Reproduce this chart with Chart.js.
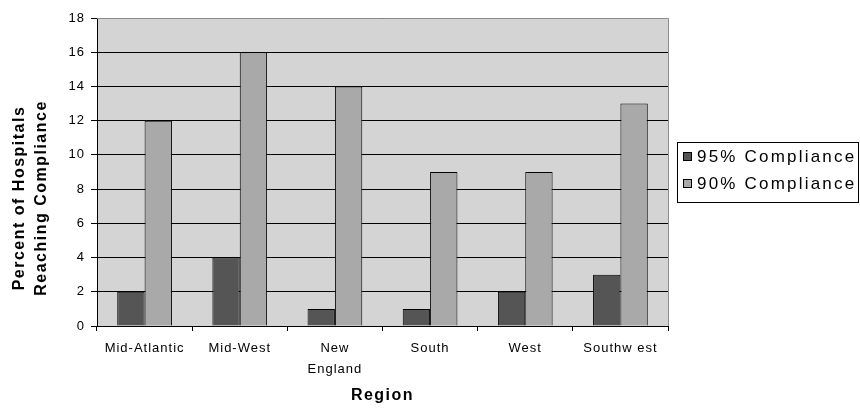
<!DOCTYPE html>
<html lang="en">

<head>
  <meta charset="UTF-8">
  <title>Compliance by Region</title>
  <script src="https://cdn.jsdelivr.net/npm/chart.js"></script>
  <style>
    body { margin: 0; background: #fff; }
    #grafico { display: block; }
  </style>
</head>

<body>
  <canvas id="grafico" width="860" height="412"></canvas>

  <script>

// regions and percent of hospitals reaching each compliance level
const regioes = ['Mid-Atlantic', 'Mid-West', ['New', 'England'], 'South', 'West', 'Southw est']
const compliance95 = [2, 4, 1, 1, 2, 3]
const compliance90 = [12, 16, 14, 9, 9, 13]
const yTicks = [0, 2, 4, 6, 8, 10, 12, 14, 16, 18]

const fonte = "'Liberation Sans', Arial, sans-serif"

// canvas letter spacing gets reset whenever the canvas is resized
function espacamento(chart) {
  chart.ctx.letterSpacing = '1px'
}

// grey plot background, border, titles and the boxed legend
const extras = {
  id: 'extras',
  beforeLayout(chart) { espacamento(chart) },
  beforeDraw(chart) {
    espacamento(chart)
    var a = chart.chartArea
    var ctx = chart.ctx
    ctx.save()
    ctx.fillStyle = '#d4d4d4'
    ctx.fillRect(a.left, a.top, a.right - a.left, a.bottom - a.top)
    ctx.restore()
  },
  afterDraw(chart) {
    var a = chart.chartArea
    var ctx = chart.ctx
    ctx.save()

    // top and right edge of the plot frame
    ctx.strokeStyle = '#8c8c8c'
    ctx.lineWidth = 1
    ctx.beginPath()
    ctx.moveTo(a.left, a.top + 0.5)
    ctx.lineTo(a.right + 0.5, a.top + 0.5)
    ctx.lineTo(a.right + 0.5, a.bottom)
    ctx.stroke()

    // axis titles
    ctx.fillStyle = '#000'
    ctx.font = 'bold 16px ' + fonte
    ctx.letterSpacing = '1.5px'
    ctx.textAlign = 'center'
    ctx.textBaseline = 'alphabetic'
    ctx.fillText('Region', (a.left + a.right) / 2, 400)

    ctx.save()
    ctx.translate(0, 198)
    ctx.rotate(-Math.PI / 2)
    ctx.fillText('Percent of Hospitals', 0, 24)
    ctx.fillText('Reaching Compliance', 0, 46)
    ctx.restore()

    // legend
    ctx.strokeStyle = '#000'
    ctx.strokeRect(677.5, 142.5, 181, 60)
    ctx.font = '17px ' + fonte
    ctx.letterSpacing = '2.2px'
    ctx.textAlign = 'left'
    ctx.textBaseline = 'middle'
    chart.data.datasets.forEach(function (ds, i) {
      var y = 157 + i * 27
      ctx.fillStyle = ds.backgroundColor
      ctx.fillRect(683.5, y - 4.5, 8, 8)
      ctx.strokeRect(683.5, y - 4.5, 8, 8)
      ctx.fillStyle = '#000'
      ctx.fillText(ds.label, 697, y)
    })

    ctx.restore()
  }
}

const ctx = document.getElementById('grafico').getContext('2d')
var graficoRegioes = new Chart(ctx, {
  type: 'bar',
  plugins: [extras],
  data: {
    labels: regioes,
    datasets: [
      {
        label: '95% Compliance',
        data: compliance95,
        backgroundColor: '#555555',
        borderColor: '#000',
        borderWidth: 1,
        categoryPercentage: 0.575,
        barPercentage: 1
      },
      {
        label: '90% Compliance',
        data: compliance90,
        backgroundColor: '#a9a9a9',
        borderColor: '#000',
        borderWidth: 1,
        categoryPercentage: 0.575,
        barPercentage: 1
      }
    ]
  },
  options: {
    responsive: false,
    animation: false,
    layout: {
      padding: { left: 0, right: 192, top: 18, bottom: 0 }
    },
    plugins: {
      legend: { display: false },
      tooltip: { enabled: false }
    },
    scales: {
      x: {
        afterFit(scale) { scale.height = 86 },
        grid: {
          offset: true,
          drawOnChartArea: false,
          tickLength: 5,
          tickColor: '#000'
        },
        border: { color: '#000' },
        ticks: {
          color: '#000',
          padding: 7,
          maxRotation: 0,
          autoSkip: false,
          font: { family: fonte, size: 13, lineHeight: 1.6 }
        }
      },
      y: {
        min: 0,
        max: 18,
        afterFit(scale) { scale.width = 97 },
        afterBuildTicks(scale) {
          scale.ticks = yTicks.map(function (v) { return { value: v } })
        },
        grid: {
          color: '#000',
          tickColor: '#000',
          tickLength: 6
        },
        border: { color: '#000' },
        ticks: {
          color: '#000',
          padding: 6,
          font: { family: fonte, size: 13 }
        }
      }
    }
  }
})

  </script>
</body>

</html>
